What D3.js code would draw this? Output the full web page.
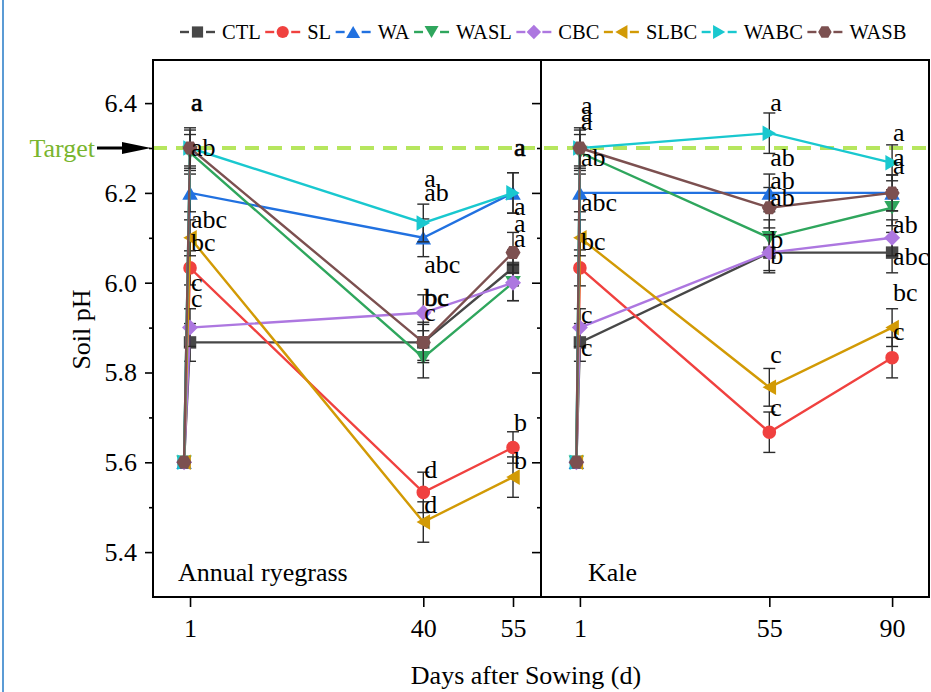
<!DOCTYPE html>
<html>
<head>
<meta charset="utf-8">
<script src="https://cdn.jsdelivr.net/npm/d3@7"></script>
<style>
  body { margin: 0; background: #fff; }
  text { font-family: "Liberation Serif", "Times New Roman", serif; }
</style>
</head>
<body>
<svg id="chart" width="931" height="692"></svg>
<script>
// ---- data ------------------------------------------------------------
const seriesNames = ["CTL", "SL", "WA", "WASL", "CBC", "SLBC", "WABC", "WASB"];
const seriesColors = ["#474747", "#f0413f", "#2171e0", "#2fa65d", "#ad77e0", "#d29a05", "#19c8cf", "#7c5050"];
const seriesSymbols = ["square", "circle", "up", "down", "diamond", "left", "right", "hexagon"];

const yTicks = [5.4, 5.6, 5.8, 6.0, 6.2, 6.4];
const yMinorTicks = [5.5, 5.7, 5.9, 6.1, 6.3];
const targetPH = 6.3;

// Annual ryegrass
const ryeDays = [0, 1, 40, 55];
const ryeTicks = [1, 40, 55];
const ryeValues = [
  [5.6, 5.867, 5.867, 6.033],
  [5.6, 6.033, 5.533, 5.633],
  [5.6, 6.2, 6.1, 6.2],
  [5.6, 6.29, 5.833, 6.0],
  [5.6, 5.9, 5.933, 6.0],
  [5.6, 6.1, 5.467, 5.567],
  [5.6, 6.3, 6.133, 6.2],
  [5.6, 6.3, 5.867, 6.067]
];
const ryeErr = [
  [0, 0.042, 0.04, 0.04],
  [0, 0.038, 0.045, 0.035],
  [0, 0.042, 0.042, 0.045],
  [0, 0.04, 0.045, 0.04],
  [0, 0.042, 0.04, 0.04],
  [0, 0.04, 0.045, 0.045],
  [0, 0.04, 0.042, 0.045],
  [0, 0.045, 0.045, 0.045]
];
const ryeLetters = [
  [1, 6.400, "a"], [1, 6.400, "a"], [1, 6.300, "ab"], [1, 6.139, "abc"],
  [1, 6.088, "bc"], [1, 5.999, "c"], [1, 5.963, "c"],
  [40, 6.231, "a"], [40, 6.200, "ab"], [40, 6.039, "abc"], [40, 5.966, "bc"],
  [40, 5.966, "bc"], [40, 5.932, "c"], [40, 5.583, "d"], [40, 5.505, "d"],
  [55, 6.300, "a"], [55, 6.300, "a"], [55, 6.168, "a"], [55, 6.131, "a"],
  [55, 6.097, "a"], [55, 5.687, "b"], [55, 5.603, "b"]
];

// Kale
const kaleDays = [0, 1, 55, 90];
const kaleTicks = [1, 55, 90];
const kaleValues = [
  [5.6, 5.867, 6.067, 6.067],
  [5.6, 6.033, 5.667, 5.833],
  [5.6, 6.2, 6.2, 6.2],
  [5.6, 6.29, 6.1, 6.167],
  [5.6, 5.9, 6.067, 6.1],
  [5.6, 6.1, 5.767, 5.9],
  [5.6, 6.3, 6.333, 6.267],
  [5.6, 6.3, 6.167, 6.2]
];
const kaleErr = [
  [0, 0.042, 0.045, 0.045],
  [0, 0.04, 0.045, 0.045],
  [0, 0.042, 0.042, 0.04],
  [0, 0.04, 0.04, 0.04],
  [0, 0.042, 0.04, 0.04],
  [0, 0.04, 0.042, 0.042],
  [0, 0.04, 0.045, 0.04],
  [0, 0.045, 0.045, 0.04]
];
const kaleLetters = [
  [1, 6.393, "a"], [1, 6.376, "a"], [1, 6.358, "a"], [1, 6.278, "ab"],
  [1, 6.177, "abc"], [1, 6.090, "bc"], [1, 5.928, "c"], [1, 5.854, "c"],
  [55, 6.400, "a"], [55, 6.278, "ab"], [55, 6.226, "ab"], [55, 6.188, "ab"],
  [55, 6.095, "b"], [55, 6.059, "b"], [55, 5.839, "c"], [55, 5.721, "c"],
  [90, 6.333, "a"], [90, 6.278, "a"], [90, 6.260, "a"], [90, 6.128, "ab"],
  [90, 6.057, "abc"], [90, 5.977, "bc"], [90, 5.890, "c"]
];

// ---- layout ------------------------------------------------------------
const plotL = 153, plotM = 541, plotR = 929, plotT = 60, plotB = 597;

const svg = d3.select("#chart");

const y = d3.scaleLinear().domain([5.3, 6.496]).range([plotB, plotT]);
const xRye = d3.scaleLinear().domain([-5.19, 59.68]).range([plotL, plotM]);
const xKale = d3.scaleLinear().domain([-10.09, 100.52]).range([plotM, plotR]);

const panels = [
  {name: "Annual ryegrass", x: xRye, days: ryeDays, ticks: ryeTicks, values: ryeValues, err: ryeErr, letters: ryeLetters, axisX: plotL},
  {name: "Kale", x: xKale, days: kaleDays, ticks: kaleTicks, values: kaleValues, err: kaleErr, letters: kaleLetters, axisX: plotM}
];

// blue page edge
svg.append("line").attr("x1", 3).attr("x2", 3).attr("y1", 0).attr("y2", 692)
   .attr("stroke", "#5b9bd5").attr("stroke-width", 2);

// marker shapes, centred on their bounding box
function polyPath(n, r, rot) {
  const pts = d3.range(n).map(i => {
    const a = rot + i * 2 * Math.PI / n;
    return [r * Math.cos(a), r * Math.sin(a)];
  });
  const cx = (d3.min(pts, p => p[0]) + d3.max(pts, p => p[0])) / 2;
  const cy = (d3.min(pts, p => p[1]) + d3.max(pts, p => p[1])) / 2;
  return "M" + pts.map(p => (p[0] - cx).toFixed(2) + "," + (p[1] - cy).toFixed(2)).join("L") + "Z";
}
function markerPath(shape, k) {
  k = k || 1;
  if (shape == "square") return polyPath(4, 8.8 * k, Math.PI / 4);
  if (shape == "circle") return d3.symbol(d3.symbolCircle, Math.PI * 6.8 * 6.8 * k * k)();
  if (shape == "up") return polyPath(3, 9 * k, -Math.PI / 2);
  if (shape == "down") return polyPath(3, 9 * k, Math.PI / 2);
  if (shape == "left") return polyPath(3, 9 * k, Math.PI);
  if (shape == "right") return polyPath(3, 9 * k, 0);
  if (shape == "diamond") return polyPath(4, 8 * k, -Math.PI / 2);
  return polyPath(6, 7.5 * k, 0);
}

// axes
panels.forEach(p => {
  const gx = svg.append("g").attr("transform", `translate(0,${plotB})`)
    .call(d3.axisBottom(p.x).tickValues(p.ticks).tickFormat(d3.format("d"))
      .tickSize(10).tickSizeOuter(0).tickPadding(12));
  gx.select(".domain").remove();
  gx.selectAll("line").attr("stroke", "#000").attr("stroke-width", 1.6);
  gx.selectAll("text").attr("font-size", 26).attr("font-family", "Liberation Serif").attr("fill", "#000");

  const gy = svg.append("g").attr("transform", `translate(${p.axisX},0)`)
    .call(d3.axisLeft(y).tickValues(yTicks).tickFormat(p.axisX == plotL ? d3.format(".1f") : "")
      .tickSize(p.axisX == plotL ? 8 : 9).tickSizeOuter(0).tickPadding(8));
  gy.select(".domain").remove();
  gy.selectAll("line").attr("stroke", "#000").attr("stroke-width", 1.6);
  gy.selectAll("text").attr("font-size", 26).attr("font-family", "Liberation Serif").attr("fill", "#000");

  const gm = svg.append("g").attr("transform", `translate(${p.axisX},0)`)
    .call(d3.axisLeft(y).tickValues(yMinorTicks).tickFormat("").tickSize(4).tickSizeOuter(0));
  gm.select(".domain").remove();
  gm.selectAll("line").attr("stroke", "#000").attr("stroke-width", 1.6);
});

// target line
svg.append("line")
  .attr("x1", plotL).attr("x2", plotR)
  .attr("y1", y(targetPH)).attr("y2", y(targetPH))
  .attr("stroke", "#b6e65e").attr("stroke-width", 4)
  .attr("stroke-dasharray", "14,9");

svg.append("text").attr("x", 95).attr("y", y(targetPH)).attr("dy", "0.33em")
  .attr("text-anchor", "end").attr("font-size", 26).attr("fill", "#79b52e").text("Target");
svg.append("line").attr("x1", 97).attr("x2", 126)
  .attr("y1", y(targetPH)).attr("y2", y(targetPH))
  .attr("stroke", "#000").attr("stroke-width", 3);
svg.append("path")
  .attr("d", `M122,${y(targetPH) - 6}L151,${y(targetPH)}L122,${y(targetPH) + 6}Z`)
  .attr("fill", "#000");

// series
panels.forEach(p => {
  const g = svg.append("g");
  seriesNames.forEach((name, i) => {
    const pts = p.days.map((d, j) => ({day: d, v: p.values[i][j], e: p.err[i][j]}));
    const sg = g.append("g");
    sg.append("path")
      .attr("d", d3.line().x(d => p.x(d.day)).y(d => y(d.v))(pts))
      .attr("fill", "none").attr("stroke", seriesColors[i]).attr("stroke-width", 2.4);
    const eb = sg.selectAll(".eb").data(pts.filter(d => d.e > 0)).enter().append("g")
      .attr("stroke", "#2b2b2b").attr("stroke-width", 1.4);
    eb.append("line").attr("x1", d => p.x(d.day)).attr("x2", d => p.x(d.day))
      .attr("y1", d => y(d.v - d.e)).attr("y2", d => y(d.v + d.e));
    eb.append("line").attr("x1", d => p.x(d.day) - 6).attr("x2", d => p.x(d.day) + 6)
      .attr("y1", d => y(d.v + d.e)).attr("y2", d => y(d.v + d.e));
    eb.append("line").attr("x1", d => p.x(d.day) - 6).attr("x2", d => p.x(d.day) + 6)
      .attr("y1", d => y(d.v - d.e)).attr("y2", d => y(d.v - d.e));
    sg.selectAll(".mk").data(pts).enter().append("path")
      .attr("d", markerPath(seriesSymbols[i]))
      .attr("transform", d => `translate(${p.x(d.day)},${y(d.v)})`)
      .attr("fill", seriesColors[i]);
  });

  // significance letters; letters printed twice on the same spot look bold
  const merged = d3.rollups(p.letters, v => v.length, d => d.join("|"))
    .map(([k, n]) => { const s = k.split("|"); return {day: +s[0], v: +s[1], t: s[2], n: n}; });
  g.selectAll(".lt").data(merged).enter().append("text")
    .attr("x", d => p.x(d.day) + 1).attr("y", d => y(d.v)).attr("dy", "0.3em")
    .attr("font-size", 26).attr("fill", "#000")
    .attr("stroke", d => d.n > 1 ? "#000" : "none").attr("stroke-width", 0.7)
    .text(d => d.t);

  svg.append("text").attr("x", p.axisX + (p.axisX == plotL ? 25 : 47)).attr("y", 581)
    .attr("font-size", 26).attr("fill", "#000").text(p.name);
});

// frame
svg.append("rect").attr("x", plotL).attr("y", plotT)
  .attr("width", plotR - plotL).attr("height", plotB - plotT)
  .attr("fill", "none").attr("stroke", "#000").attr("stroke-width", 2);
svg.append("line").attr("x1", plotM).attr("x2", plotM).attr("y1", plotT).attr("y2", plotB)
  .attr("stroke", "#000").attr("stroke-width", 2);

// axis titles
svg.append("text").attr("transform", `translate(90,${(plotT + plotB) / 2 + 1}) rotate(-90)`)
  .attr("text-anchor", "middle").attr("font-size", 26).attr("fill", "#000").text("Soil pH");
svg.append("text").attr("x", 526).attr("y", 684)
  .attr("text-anchor", "middle").attr("font-size", 26).attr("fill", "#000").text("Days after Sowing (d)");

// legend
let lx = 180;
const ly = 32;
seriesNames.forEach((name, i) => {
  const lg = svg.append("g");
  lg.append("line").attr("x1", lx).attr("x2", lx + 9).attr("y1", ly).attr("y2", ly)
    .attr("stroke", seriesColors[i]).attr("stroke-width", 2.4);
  lg.append("line").attr("x1", lx + 26).attr("x2", lx + 35).attr("y1", ly).attr("y2", ly)
    .attr("stroke", seriesColors[i]).attr("stroke-width", 2.4);
  lg.append("path").attr("d", markerPath(seriesSymbols[i], 0.9))
    .attr("transform", `translate(${lx + 17.5},${ly})`).attr("fill", seriesColors[i]);
  const t = lg.append("text").attr("x", lx + 42).attr("y", ly).attr("dy", "0.33em")
    .attr("font-size", 20.5).attr("fill", "#000").text(name);
  lx += 42 + t.node().getComputedTextLength() + 4.5;
});
</script>
</body>
</html>
